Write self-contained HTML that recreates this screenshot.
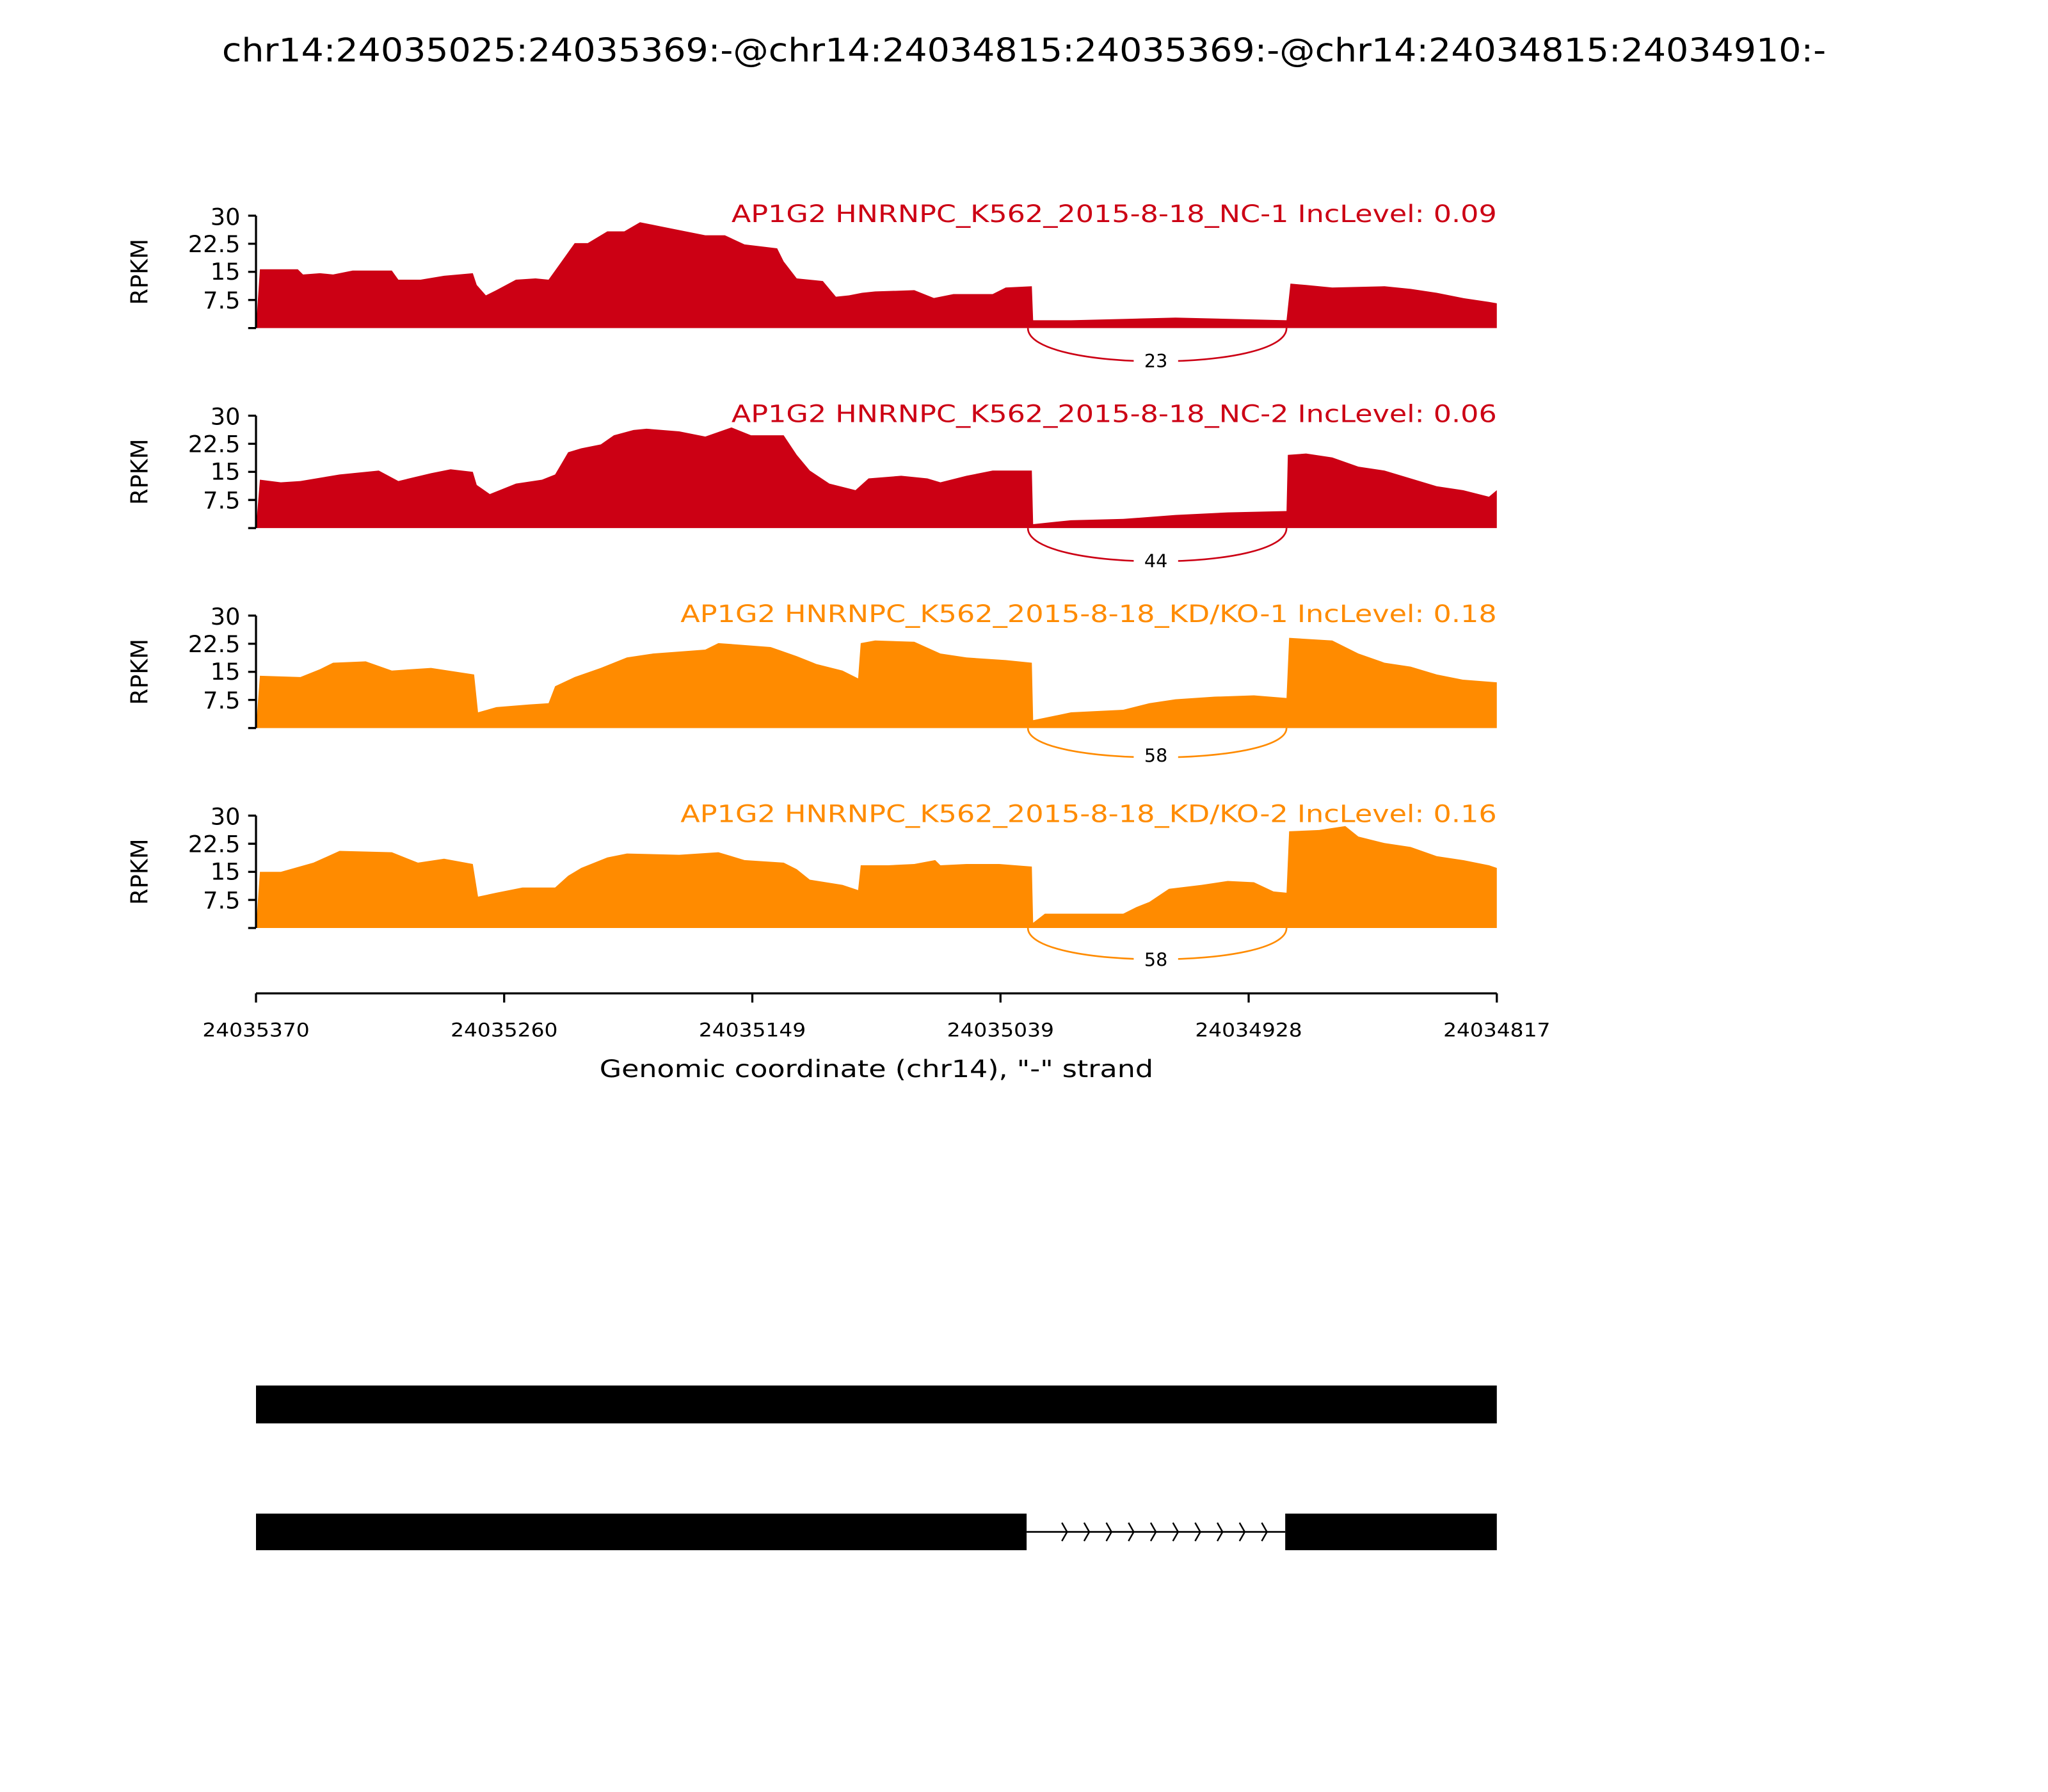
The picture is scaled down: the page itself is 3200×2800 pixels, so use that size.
<!DOCTYPE html>
<html><head><meta charset="utf-8"><style>html,body{margin:0;padding:0;background:#fff}svg{display:block}</style></head>
<body>
<svg xmlns="http://www.w3.org/2000/svg" width="3200" height="2800" viewBox="0 0 1568 1371" preserveAspectRatio="none" font-family="DejaVu Sans, Liberation Sans, sans-serif">
<rect width="1568" height="1371" fill="#fff"/>
<text x="784" y="47" font-size="25" text-anchor="middle" textLength="1228" lengthAdjust="spacingAndGlyphs">chr14:24035025:24035369:-@chr14:24034815:24035369:-@chr14:24034815:24034910:-</text>

<!-- Panel 1 -->
<polygon fill="#cc0014" points="196,251 199,206 228,206 232,210 245,209 255,210 270,207 300,207 305,214 322,214 340,211 362,209 365,218 372,226 380,222 395,214 410,213 420,214 430,200 440,186 450,186 465,177 478,177 490,170 505,173 520,176 540,180 555,180 570,187 595,190 600,200 610,213 630,215 640,227 650,226 660,224 670,223 700,222 715,228 730,225 760,225 770,220 790,219 791,245 820,245 860,244 900,243 985,245 988,217 1000,218 1020,220 1060,219 1080,221 1100,224 1120,228 1140,231 1146,232 1146,251"/>
<g stroke="#000" stroke-width="1.6" fill="none"><path d="M196,165V251M190,165H196M190,186.5H196M190,208H196M190,229.5H196M190,251H196"/></g>
<g font-size="18" text-anchor="end"><text x="184" y="172">30</text><text x="184" y="193">22.5</text><text x="184" y="214">15</text><text x="184" y="236">7.5</text></g>
<text transform="translate(113,208) rotate(-90)" font-size="18" text-anchor="middle">RPKM</text>
<text x="1146" y="170" font-size="18.5" fill="#cc0014" text-anchor="end" textLength="586" lengthAdjust="spacingAndGlyphs">AP1G2 HNRNPC_K562_2015-8-18_NC-1 IncLevel: 0.09</text>
<path d="M787,251 C787,285 985,285 985,251" fill="none" stroke="#cc0014" stroke-width="1.3"/>
<rect x="868" y="266" width="34" height="18" fill="#fff"/>
<text x="885" y="281" font-size="14" text-anchor="middle">23</text>

<!-- Panel 2 -->
<polygon fill="#cc0014" points="196,404 199,367 215,369 230,368 260,363 290,360 305,368 330,362 345,359 362,361 365,371 375,378 395,370 415,367 425,363 435,346 445,343 460,340 470,333 485,329 495,328 520,330 540,334 560,327 575,333 600,333 610,348 620,360 635,370 655,375 665,366 690,364 710,366 720,369 740,364 760,360 790,360 791,401 820,398 860,397 900,394 940,392 985,391 986,348 1000,347 1020,350 1040,357 1060,360 1080,366 1100,372 1120,375 1140,380 1146,375 1146,404"/>
<g stroke="#000" stroke-width="1.6" fill="none"><path d="M196,318V404M190,318H196M190,339.5H196M190,361H196M190,382.5H196M190,404H196"/></g>
<g font-size="18" text-anchor="end"><text x="184" y="325">30</text><text x="184" y="346">22.5</text><text x="184" y="367">15</text><text x="184" y="389">7.5</text></g>
<text transform="translate(113,361) rotate(-90)" font-size="18" text-anchor="middle">RPKM</text>
<text x="1146" y="323" font-size="18.5" fill="#cc0014" text-anchor="end" textLength="586" lengthAdjust="spacingAndGlyphs">AP1G2 HNRNPC_K562_2015-8-18_NC-2 IncLevel: 0.06</text>
<path d="M787,404 C787,438 985,438 985,404" fill="none" stroke="#cc0014" stroke-width="1.3"/>
<rect x="868" y="419" width="34" height="18" fill="#fff"/>
<text x="885" y="434" font-size="14" text-anchor="middle">44</text>

<!-- Panel 3 -->
<polygon fill="#ff8b00" points="196,557 199,517 230,518 245,512 255,507 280,506 300,513 330,511 363,516 366,545 380,541 405,539 420,538 425,525 440,518 460,511 480,503 500,500 540,497 550,492 590,495 610,502 625,508 645,513 657,519 659,492 670,490 700,491 720,500 740,503 770,505 790,507 791,551 820,545 860,543 880,538 900,535 930,533 960,532 985,534 987,488 1020,490 1040,500 1060,507 1080,510 1100,516 1120,520 1146,522 1146,557"/>
<g stroke="#000" stroke-width="1.6" fill="none"><path d="M196,471V557M190,471H196M190,492.5H196M190,514H196M190,535.5H196M190,557H196"/></g>
<g font-size="18" text-anchor="end"><text x="184" y="478">30</text><text x="184" y="499">22.5</text><text x="184" y="520">15</text><text x="184" y="542">7.5</text></g>
<text transform="translate(113,514) rotate(-90)" font-size="18" text-anchor="middle">RPKM</text>
<text x="1146" y="476" font-size="18.5" fill="#ff8b00" text-anchor="end" textLength="625" lengthAdjust="spacingAndGlyphs">AP1G2 HNRNPC_K562_2015-8-18_KD/KO-1 IncLevel: 0.18</text>
<path d="M787,557 C787,587 985,587 985,557" fill="none" stroke="#ff8b00" stroke-width="1.3"/>
<rect x="868" y="569" width="34" height="18" fill="#fff"/>
<text x="885" y="583" font-size="14" text-anchor="middle">58</text>

<!-- Panel 4 -->
<polygon fill="#ff8b00" points="196,710 199,667 215,667 240,660 260,651 300,652 320,660 340,657 362,661 366,686 380,683 400,679 425,679 435,670 445,664 465,656 480,653 520,654 550,652 570,658 600,660 610,665 620,673 645,677 657,681 659,662 680,662 700,661 716,658 720,662 740,661 765,661 790,663 791,706 800,699 860,699 870,694 880,690 895,680 920,677 940,674 960,675 975,682 985,683 987,636 1010,635 1030,632 1040,640 1060,645 1080,648 1100,655 1120,658 1140,662 1146,664 1146,710"/>
<g stroke="#000" stroke-width="1.6" fill="none"><path d="M196,624V710M190,624H196M190,645.5H196M190,667H196M190,688.5H196M190,710H196"/></g>
<g font-size="18" text-anchor="end"><text x="184" y="631">30</text><text x="184" y="652">22.5</text><text x="184" y="673">15</text><text x="184" y="695">7.5</text></g>
<text transform="translate(113,667) rotate(-90)" font-size="18" text-anchor="middle">RPKM</text>
<text x="1146" y="629" font-size="18.5" fill="#ff8b00" text-anchor="end" textLength="625" lengthAdjust="spacingAndGlyphs">AP1G2 HNRNPC_K562_2015-8-18_KD/KO-2 IncLevel: 0.16</text>
<path d="M787,710 C787,742 985,742 985,710" fill="none" stroke="#ff8b00" stroke-width="1.3"/>
<rect x="868" y="724" width="34" height="18" fill="#fff"/>
<text x="885" y="739" font-size="14" text-anchor="middle">58</text>

<!-- x axis -->
<g stroke="#000" stroke-width="1.6" fill="none"><path d="M196,760H1146M196,760v7M386,760v7M576,760v7M766,760v7M956,760v7M1146,760v7"/></g>
<g font-size="14.5" text-anchor="middle">
<text x="196" y="793" textLength="82" lengthAdjust="spacingAndGlyphs">24035370</text>
<text x="386" y="793" textLength="82" lengthAdjust="spacingAndGlyphs">24035260</text>
<text x="576" y="793" textLength="82" lengthAdjust="spacingAndGlyphs">24035149</text>
<text x="766" y="793" textLength="82" lengthAdjust="spacingAndGlyphs">24035039</text>
<text x="956" y="793" textLength="82" lengthAdjust="spacingAndGlyphs">24034928</text>
<text x="1146" y="793" textLength="82" lengthAdjust="spacingAndGlyphs">24034817</text>
</g>
<text x="671" y="824" font-size="18.5" text-anchor="middle" textLength="424" lengthAdjust="spacingAndGlyphs">Genomic coordinate (chr14), "-" strand</text>

<!-- gene models -->
<rect x="196" y="1060" width="950" height="29" fill="#000"/>
<rect x="196" y="1158" width="590" height="28" fill="#000"/>
<rect x="984" y="1158" width="162" height="28" fill="#000"/>
<line x1="786" y1="1172" x2="984" y2="1172" stroke="#000" stroke-width="1.3"/>
<g stroke="#000" stroke-width="1.2" fill="none">
<path d="M813,1165l4,7l-4,7M830,1165l4,7l-4,7M847,1165l4,7l-4,7M864,1165l4,7l-4,7M881,1165l4,7l-4,7M898,1165l4,7l-4,7M915,1165l4,7l-4,7M932,1165l4,7l-4,7M949,1165l4,7l-4,7M966,1165l4,7l-4,7"/>
</g>
</svg>
</body></html>
